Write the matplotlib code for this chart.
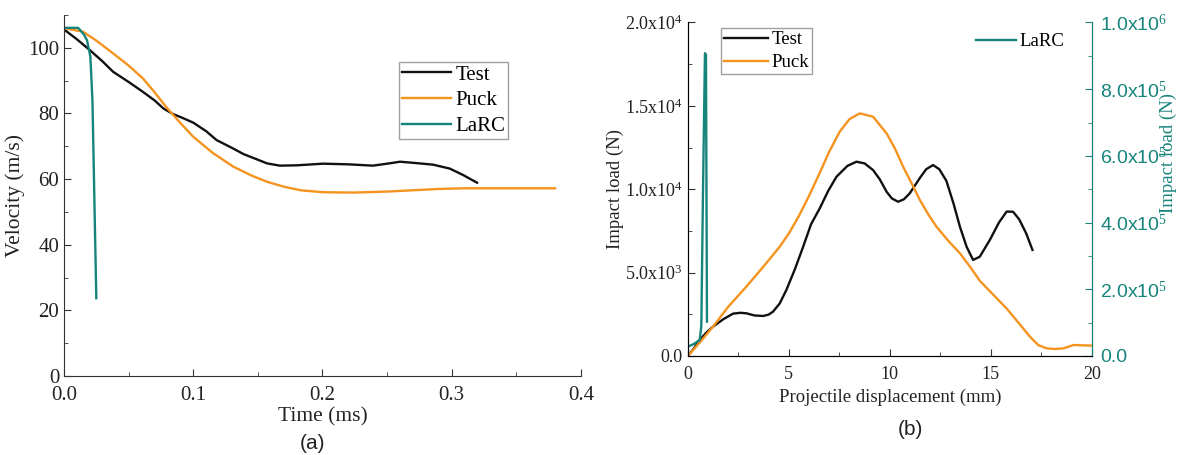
import matplotlib.pyplot as plt
from matplotlib.ticker import MultipleLocator, FuncFormatter

plt.rcParams['font.family'] = ['Liberation Serif', 'DejaVu Serif']
plt.rcParams['mathtext.fontset'] = 'custom'
plt.rcParams['mathtext.rm'] = 'Liberation Serif'
plt.rcParams['mathtext.it'] = 'Liberation Serif'

BLACK = '#111111'
ORANGE = '#F5931F'
TEAL = '#16847C'

# (a) velocity vs time
t_test = [0.0, 0.01, 0.02, 0.03, 0.038, 0.05, 0.061, 0.07, 0.077, 0.0845, 0.092, 0.1,
          0.11, 0.118, 0.13, 0.139, 0.15, 0.157, 0.167, 0.18, 0.2005, 0.22, 0.239,
          0.25, 0.26, 0.272, 0.2856, 0.2985, 0.309, 0.3196]
v_test = [105.6, 102.6, 99.3, 95.8, 92.7, 89.6, 86.6, 84.0, 81.5, 79.8, 78.6, 77.2,
          74.6, 71.9, 69.5, 67.6, 65.9, 64.8, 64.1, 64.2, 64.7, 64.5, 64.1,
          64.7, 65.3, 64.9, 64.4, 63.2, 61.2, 58.9]
t_puck = [0.0, 0.0147, 0.025, 0.038, 0.05, 0.061, 0.07, 0.079, 0.09, 0.1, 0.115,
          0.131, 0.145, 0.157, 0.17, 0.183, 0.2005, 0.2237, 0.25, 0.27, 0.29,
          0.309, 0.34, 0.38]
v_puck = [106.0, 104.9, 102.2, 98.3, 94.6, 90.7, 86.5, 82.0, 77.1, 72.9, 68.0,
          63.8, 61.1, 59.2, 57.7, 56.6, 56.0, 55.9, 56.2, 56.6, 57.0,
          57.2, 57.2, 57.2]
t_larc = [0.0, 0.005, 0.0108, 0.0125, 0.0155, 0.0178, 0.0204, 0.022, 0.023, 0.024, 0.025]
v_larc = [106.1, 106.1, 106.1, 105.4, 104.0, 102.3, 97.3, 84.0, 63.8, 43.5, 23.7]

# (b) impact load vs displacement
d_test = [0.0, 0.3, 0.59, 0.9, 1.25, 1.75, 2.24, 2.6, 2.9, 3.3, 3.73, 4.0, 4.22,
          4.55, 4.88, 5.3, 5.71, 6.1, 6.53, 6.95, 7.36, 7.9, 8.35, 8.75, 9.17,
          9.5, 9.84, 10.1, 10.41, 10.7, 10.99, 11.5, 11.8, 12.14, 12.45, 12.8,
          13.15, 13.47, 13.8, 14.12, 14.45, 14.95, 15.4, 15.78, 16.1, 16.4,
          16.75, 17.06]
f_test = [0, 450, 960, 1380, 1760, 2200, 2540, 2590, 2560, 2430, 2400, 2480, 2660,
          3150, 3960, 5200, 6550, 7900, 8850, 9900, 10750, 11400, 11650, 11550, 11150,
          10600, 9850, 9450, 9250, 9400, 9760, 10700, 11200, 11450, 11200, 10500,
          9150, 7750, 6550, 5760, 5950, 6960, 8000, 8660, 8650, 8200,
          7350, 6360]
d_puck = [0.0, 0.6, 1.25, 2.0, 2.9, 3.7, 4.55, 5.03, 5.5, 6.0, 6.5, 7.0, 7.52, 8.0,
          8.51, 9.17, 9.84, 10.25, 10.66, 11.08, 11.49, 11.9, 12.31, 12.9, 13.47,
          14.0, 14.46, 15.1, 15.78, 16.4, 16.93, 17.35, 17.76, 18.2, 18.6, 19.1, 20.0]
f_puck = [0, 820, 1760, 2950, 4160, 5300, 6550, 7400, 8400, 9600, 10900, 12250, 13450,
          14200, 14550, 14350, 13350, 12450, 11350, 10350, 9350, 8500, 7750, 6900,
          6160, 5300, 4500, 3700, 2850, 1950, 1160, 650, 460, 420, 460, 660, 620]
d_larc = [0.0, 0.3, 0.59, 0.67, 0.75, 0.85, 0.9, 0.95]
f_larc = [28000, 36000, 48000, 90000, 480000, 908000, 903000, 103000]


def sci(v, _):
    if v == 0:
        return '0.0'
    e = int(f'{v:e}'.split('e')[1])
    return f'{v / 10**e:.1f}x10$^{{{e}}}$'


fig = plt.figure(figsize=(11.92, 4.55), dpi=100)

# ---- panel (a)
ax1 = fig.add_axes([0.0537, 0.1736, 0.4337, 0.7934])
ax1.plot(t_test, v_test, color=BLACK, lw=1.7, label='Test')
ax1.plot(t_puck, v_puck, color=ORANGE, lw=1.7, label='Puck')
ax1.plot(t_larc, v_larc, color=TEAL, lw=1.7, label='LaRC')
ax1.set_xlim(0, 0.4)
ax1.set_ylim(0, 110)
ax1.xaxis.set_major_locator(MultipleLocator(0.1))
ax1.xaxis.set_minor_locator(MultipleLocator(0.05))
ax1.yaxis.set_major_locator(MultipleLocator(20))
ax1.yaxis.set_minor_locator(MultipleLocator(10))
ax1.xaxis.set_major_formatter(FuncFormatter(lambda v, _: f'{v:.1f}'))
ax1.spines[['top', 'right']].set_visible(False)
for sp in ax1.spines.values():
    sp.set_color('#333333')
ax1.tick_params(which='both', direction='in', labelsize=15, colors='#333333',
                labelcolor='#222222')
ax1.tick_params(which='major', length=5)
ax1.tick_params(which='minor', length=3)
ax1.tick_params(axis='x', pad=7)
ax1.set_xlabel('Time (ms)', fontsize=15.5, labelpad=2, color='#222222')
ax1.set_ylabel('Velocity (m/s)', fontsize=15.5, labelpad=2, color='#222222')
leg1 = ax1.legend(loc='upper left', bbox_to_anchor=(0.648, 0.87), fontsize=15,
                  frameon=True, fancybox=False, edgecolor='#888888',
                  handlelength=2.35, handletextpad=0.2, borderpad=0.15,
                  labelspacing=0.3, borderaxespad=0)
leg1.get_frame().set_linewidth(1.0)
fig.text(0.2625, 0.026, '(a)', family='Liberation Sans', fontsize=15,
         ha='center', va='center', color='#222222')

# ---- panel (b)
ax2 = fig.add_axes([0.577, 0.2176, 0.339, 0.733])
ax2.plot(d_test, f_test, color=BLACK, lw=1.7, label='Test')
ax2.plot(d_puck, f_puck, color=ORANGE, lw=1.7, label='Puck')
ax2.set_xlim(0, 20)
ax2.set_ylim(0, 20000)
ax2.xaxis.set_major_locator(MultipleLocator(5))
ax2.xaxis.set_minor_locator(MultipleLocator(2.5))
ax2.yaxis.set_major_locator(MultipleLocator(5000))
ax2.yaxis.set_minor_locator(MultipleLocator(2500))
ax2.yaxis.set_major_formatter(FuncFormatter(sci))
ax2.spines['top'].set_visible(False)
for sp in ax2.spines.values():
    sp.set_color('#333333')
ax2.tick_params(which='both', direction='in', labelsize=13, colors='#333333',
                labelcolor='#222222')
ax2.tick_params(which='major', length=5)
ax2.tick_params(which='minor', length=3)
ax2.tick_params(axis='x', pad=7)
ax2.set_xlabel('Projectile displacement (mm)', fontsize=13.5, labelpad=4, color='#222222')
ax2.set_ylabel('Impact load (N)', fontsize=13.5, labelpad=1, color='#222222')
leg2 = ax2.legend(loc='upper left', bbox_to_anchor=(0.082, 0.983), fontsize=13.5,
                  frameon=True, fancybox=False, edgecolor='#888888',
                  handlelength=2.35, handletextpad=0.2, borderpad=0.15,
                  labelspacing=0.32, borderaxespad=0)
leg2.get_frame().set_linewidth(1.0)

ax3 = ax2.twinx()
ax3.plot(d_larc, f_larc, color=TEAL, lw=1.7, label='LaRC')
ax3.set_ylim(0, 1.0e6)
ax3.yaxis.set_major_locator(MultipleLocator(2e5))
ax3.yaxis.set_minor_locator(MultipleLocator(1e5))
ax3.yaxis.set_major_formatter(FuncFormatter(sci))
ax3.spines['top'].set_visible(False)
ax3.spines['right'].set_color(TEAL)
ax3.tick_params(axis='y', which='both', direction='in', colors=TEAL, labelsize=14, pad=6)
ax3.tick_params(axis='y', which='major', length=5)
ax3.tick_params(axis='y', which='minor', length=3)
ax3.set_ylabel('Impact load (N)', fontsize=13.5, color=TEAL)
ax3.yaxis.set_label_coords(1.168, 0.61)
ax3.legend(loc='upper right', bbox_to_anchor=(0.95, 0.99), fontsize=13.5,
           frameon=False, handlelength=2.1, handletextpad=0.2, borderaxespad=0)
fig.canvas.draw()
for lab in ax3.get_yticklabels():
    lab.set_family('Liberation Sans')
fig.text(0.764, 0.055, '(b)', family='Liberation Sans', fontsize=15,
         ha='center', va='center', color='#222222')

plt.savefig('out.png', dpi=100)
